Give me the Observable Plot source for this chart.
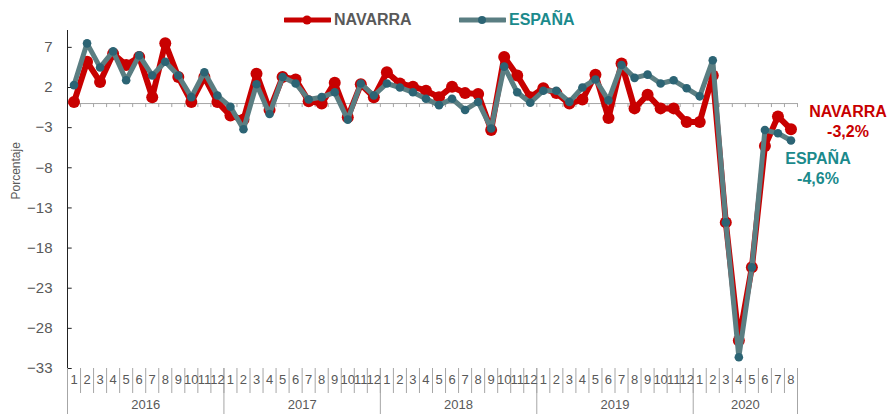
<!DOCTYPE html>
<html>
<head>
<meta charset="utf-8">
<script src="https://cdn.jsdelivr.net/npm/d3@7"></script>
<script src="https://cdn.jsdelivr.net/npm/@observablehq/plot@0.6"></script>
<style>
  body { margin: 0; background: #fff; font-family: "Liberation Sans", Arial, sans-serif; }
  #legend { position: relative; width: 890px; height: 30px; }
  .lg-item { position: absolute; top: 12px; display: flex; align-items: center; font-weight: bold; font-size: 16px; line-height: 16px; }
  .lg-item svg { margin-right: 3px; }
</style>
</head>
<body>
<div id="legend"></div>
<div id="chart"></div>
<script>
// ---- Data ----
const years = ["2016", "2017", "2018", "2019", "2020"];
const monthsPerYear = [12, 12, 12, 12, 8];
const monthLabels = years.flatMap((y, k) => d3.range(1, monthsPerYear[k] + 1).map(String));

const navarra = [
  0.2, 5.2, 2.7, 6.2, 4.8, 5.8, 0.8, 7.5, 3.3, 0.2, 3.3, 0.2,
  -1.5, -2.0, 3.7, -0.8, 3.3, 3.0, 0.3, 0.0, 2.6, -1.7, 2.4, 0.8,
  3.9, 2.5, 2.1, 1.6, 0.8, 2.1, 1.3, 1.2, -3.3, 5.8, 3.5, 0.8,
  1.9, 1.3, 0.0, 0.5, 3.6, -1.8, 5.0, -0.6, 1.1, -0.6, -0.6, -2.3,
  -2.3, 3.5, -14.8, -29.5, -20.4, -5.3, -1.6, -3.2
];
const espana = [
  2.3, 7.5, 4.5, 6.5, 2.9, 6.0, 3.5, 5.2, 3.5, 0.8, 3.9, 1.0,
  -0.4, -3.2, 2.4, -1.3, 3.3, 2.5, 0.5, 0.8, 1.4, -2.0, 2.5, 1.0,
  2.5, 2.0, 1.4, 0.6, -0.2, 0.6, -0.8, 0.2, -3.1, 4.6, 1.4, 0.1,
  1.6, 1.6, 0.2, 2.0, 3.0, 0.4, 4.8, 3.2, 3.6, 2.5, 2.9, 1.9,
  0.9, 5.4, -14.8, -31.6, -20.4, -3.3, -3.7, -4.6
];
const yTicks = [7, 2, -3, -8, -13, -18, -23, -28, -33];
const seriesNames = ["NAVARRA", "ESPAÑA"];

// ---- Colors ----
const RED = "#c80000";
const TEAL_LINE = "#5a7e82";
const TEAL_DOT = "#2c6474";
const TEAL_TEXT = "#1b8a8c";
const GRAY_TEXT = "#595959";
const GRAY_LINE = "#a6a6a6";

// ---- Derived tables ----
const n = monthLabels.length;
const nav = navarra.map((v, i) => ({i: i + 0.5, v}));
const esp = espana.map((v, i) => ({i: i + 0.5, v}));
const months = monthLabels.map((label, i) => ({i: i + 0.5, label}));
const bounds = d3.range(0, n + 1);
const yearStarts = [0];
monthsPerYear.forEach((m, k) => yearStarts.push(yearStarts[k] + m));
const yearData = years.map((y, k) => ({x: (yearStarts[k] + yearStarts[k + 1]) / 2, label: y}));
const fmt = v => v.toFixed(1).replace(".", ",") + "%";
const lastNav = nav[nav.length - 1];
const lastEsp = esp[esp.length - 1];

// ---- Legend (HTML) ----
const legend = document.getElementById("legend");
function swatch(color, dotColor, lw, r) {
  return `<svg width="47" height="12"><line x1="1" x2="46" y1="6" y2="6" stroke="${color}" stroke-width="${lw}" stroke-linecap="round"/><circle cx="23" cy="6" r="${r}" fill="${dotColor}"/></svg>`;
}
legend.innerHTML =
  `<div class="lg-item" style="left:284px;color:${GRAY_TEXT}">${swatch(RED, RED, 5, 4.5)}${seriesNames[0]}</div>` +
  `<div class="lg-item" style="left:459px;color:${TEAL_TEXT}">${swatch(TEAL_LINE, TEAL_DOT, 5, 4)}${seriesNames[1]}</div>`;

// ---- Chart ----
const chart = Plot.plot({
  width: 890,
  height: 384,
  marginLeft: 67,
  marginRight: 93,
  marginTop: 0,
  marginBottom: 46,
  x: {domain: [0, n], axis: null},
  y: {domain: [-33, 9.1], axis: null},
  style: {fontFamily: "'Liberation Sans', Arial, sans-serif", background: "#fff"},
  marks: [
    // zero line and its ticks
    Plot.ruleY([0], {stroke: GRAY_LINE, strokeWidth: 1}),
    Plot.ruleX(bounds.slice(1), {y1: 0, y2: -0.5, stroke: GRAY_LINE}),
    // y axis line + inward ticks
    Plot.ruleX([0], {stroke: "#222", strokeWidth: 1}),
    Plot.ruleY(yTicks, {x1: 0, x2: 0.36, stroke: "#222"}),
    Plot.axisY(yTicks, {anchor: "left", tickSize: 0, tickPadding: 15, fontSize: 15, color: GRAY_TEXT, label: null}),
    Plot.text(["Porcentaje"], {frameAnchor: "left", rotate: -90, dx: -51, fontSize: 12, fill: GRAY_TEXT}),
    // x axis: month separators, year separators, labels
    Plot.axisX(bounds, {anchor: "bottom", tickSize: 25, tickFormat: () => "", stroke: GRAY_LINE, label: null}),
    Plot.axisX(yearStarts, {anchor: "bottom", tickSize: 46, tickFormat: () => "", stroke: GRAY_LINE, label: null}),
    Plot.text(months, {x: "i", text: "label", frameAnchor: "bottom", dy: 15, fontSize: 13, fill: GRAY_TEXT}),
    Plot.text(yearData, {x: "x", text: "label", frameAnchor: "bottom", dy: 40, fontSize: 13, fill: GRAY_TEXT}),
    // series
    Plot.line(nav, {x: "i", y: "v", stroke: RED, strokeWidth: 6}),
    Plot.dot(nav, {x: "i", y: "v", r: 6, fill: RED}),
    Plot.line(esp, {x: "i", y: "v", stroke: TEAL_LINE, strokeWidth: 5}),
    Plot.dot(esp, {x: "i", y: "v", r: 4.3, fill: TEAL_DOT}),
    // end labels
    Plot.text([lastNav], {x: "i", y: "v", text: d => seriesNames[0] + "\n" + fmt(d.v), dx: 57, dy: -9, fontSize: 16, fontWeight: "bold", fill: RED, lineHeight: 1.25}),
    Plot.text([lastEsp], {x: "i", y: "v", text: d => seriesNames[1] + "\n" + fmt(d.v), dx: 27, dy: 27, fontSize: 16, fontWeight: "bold", fill: TEAL_TEXT, lineHeight: 1.25})
  ]
});
document.getElementById("chart").appendChild(chart);
</script>
</body>
</html>
